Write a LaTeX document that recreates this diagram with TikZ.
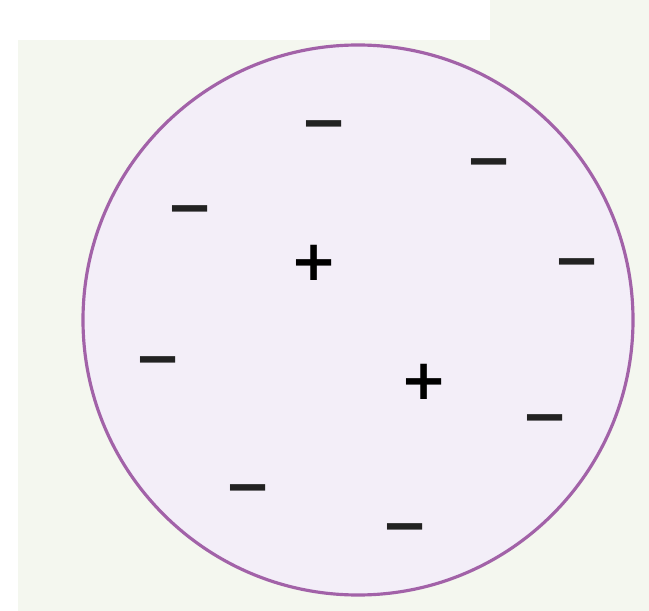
\documentclass[tikz,border=0pt]{standalone}
\usepackage{fontspec}
\usepackage{xcolor}
\usepackage{tikz}
\newfontfamily\signfont{DejaVu Sans}
\definecolor{bgGreen}{HTML}{F4F7EF}
\definecolor{ballFill}{HTML}{F3EEF8}
\definecolor{ballEdge}{HTML}{A262A8}
\definecolor{signInk}{HTML}{222222}

\tikzset{
  charge/.style={inner sep=0pt, text height=22pt, text depth=0pt,
    font=\signfont\bfseries\fontsize{32}{32}\selectfont, text=signInk}
}

\begin{document}
\begin{tikzpicture}[x=0.02cm, y=-0.02cm]
  % page and backdrop
  \fill[bgGreen] (0,0) rectangle (649,611);
  \fill[white] (0,0) rectangle (490,40);
  \fill[white] (0,40) rectangle (18,611);
  \useasboundingbox (0,0) rectangle (649,611);

  % the sphere
  \draw[ballEdge, line width=1.8pt, fill=ballFill] (358,320) circle (275);

  % negative charges
  \node[charge] (m1) at (324,122) {−};
  \node[charge] (m2) at (489,160) {−};
  \node[charge] (m3) at (190,207) {−};
  \node[charge] (m4) at (577,260) {−};
  \node[charge] (m5) at (158,358) {−};
  \node[charge] (m6) at (545,416) {−};
  \node[charge] (m7) at (248,486) {−};
  \node[charge] (m8) at (405,525) {−};

  % positive charges
  \node[charge, text=black] (p1) at (314,261) {+};
  \node[charge, text=black] (p2) at (424,380) {+};
\end{tikzpicture}
\end{document}
